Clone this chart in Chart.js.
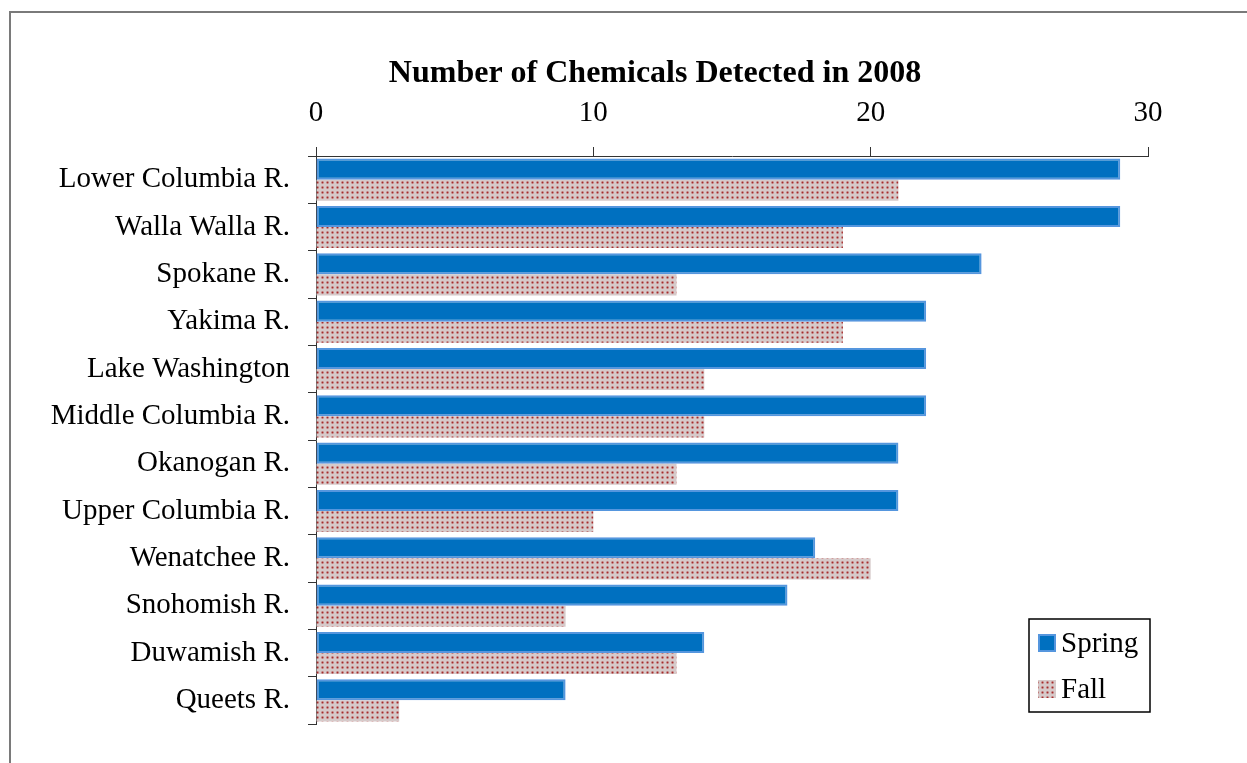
<!DOCTYPE html>
<html>
<head>
<meta charset="utf-8">
<title>Number of Chemicals Detected in 2008</title>
<script src="https://cdn.jsdelivr.net/npm/chart.js@4/dist/chart.umd.min.js"></script>
<style>
  html, body { margin: 0; padding: 0; background: #fff; overflow: hidden; }
  #frame { position: absolute; left: 9px; top: 11px; width: 2000px; height: 2000px; border: 2px solid #7a7a7a; }
  #chart { position: absolute; left: 0; top: 0; }
</style>
</head>
<body>
<div id="frame"></div>
<canvas id="chart" width="1247" height="763"></canvas>
<script>
// sites, top to bottom
var sites = ['Lower Columbia R.', 'Walla Walla R.', 'Spokane R.', 'Yakima R.', 'Lake Washington',
  'Middle Columbia R.', 'Okanogan R.', 'Upper Columbia R.', 'Wenatchee R.', 'Snohomish R.',
  'Duwamish R.', 'Queets R.'];

// number of chemicals found per site
var spring = [29, 29, 24, 22, 22, 22, 21, 21, 18, 17, 14, 9];
var fall = [21, 19, 13, 19, 14, 14, 13, 10, 20, 9, 13, 3];

var xTicks = [0, 10, 20, 30];
var chartTitle = 'Number of Chemicals Detected in 2008';

var serif = "'Liberation Serif', 'Times New Roman', serif";
Chart.defaults.font.family = serif;
Chart.defaults.color = '#000';

// dotted fill for the fall bars
function dotPattern() {
  var c = document.createElement('canvas');
  c.width = 5; c.height = 5;
  var g = c.getContext('2d');
  g.fillStyle = '#d6caca';
  g.fillRect(0, 0, 5, 5);
  g.fillStyle = '#cfa9a9';
  g.fillRect(1, 1, 3, 3);
  g.fillStyle = '#c07c7c';
  g.fillRect(1, 2, 3, 1);
  g.fillRect(2, 1, 1, 3);
  g.fillStyle = '#a52c2c';
  g.fillRect(2, 2, 1, 1);
  return g.createPattern(c, 'repeat');
}
var fallFill = dotPattern();

var titlePlugin = {
  id: 'topTitle',
  afterDraw: function(chart) {
    var ctx = chart.ctx;
    ctx.save();
    ctx.font = 'bold 32px ' + serif;
    ctx.fillStyle = '#000';
    ctx.textAlign = 'center';
    ctx.textBaseline = 'alphabetic';
    ctx.fillText(chartTitle, 655, 82);
    ctx.restore();
  }
};

// boxed legend inside the lower right of the plot
var boxLegend = {
  id: 'boxLegend',
  afterDraw: function(chart) {
    var ctx = chart.ctx;
    var area = chart.chartArea;
    var w = 121, h = 93;
    var x = area.right + 2 - w;
    var y = area.bottom - 12 - h;
    ctx.save();
    ctx.fillStyle = '#fff';
    ctx.fillRect(x, y, w, h);
    ctx.strokeStyle = '#000';
    ctx.lineWidth = 1.5;
    ctx.strokeRect(x, y, w, h);
    ctx.font = '29px ' + serif;
    ctx.textBaseline = 'middle';
    ctx.textAlign = 'left';
    chart.data.datasets.forEach(function(ds, i) {
      var cy = y + 24 + i * 46;
      ctx.fillStyle = ds.backgroundColor;
      ctx.fillRect(x + 9, cy - 9, 18, 18);
      if (ds.borderWidth) {
        ctx.strokeStyle = ds.borderColor;
        ctx.lineWidth = 2;
        ctx.strokeRect(x + 10, cy - 8, 16, 16);
      }
      ctx.fillStyle = '#000';
      ctx.fillText(ds.label, x + 32, cy + 1);
    });
    ctx.restore();
  }
};

new Chart(document.getElementById('chart'), {
  type: 'bar',
  data: {
    labels: sites,
    datasets: [
      {
        label: 'Spring',
        data: spring,
        backgroundColor: '#0070c0',
        borderColor: '#5596de',
        borderWidth: 2,
        borderSkipped: false,
        categoryPercentage: 0.89,
        barPercentage: 1.0
      },
      {
        label: 'Fall',
        data: fall,
        backgroundColor: fallFill,
        borderWidth: 0,
        categoryPercentage: 0.89,
        barPercentage: 1.0
      }
    ]
  },
  options: {
    indexAxis: 'y',
    responsive: false,
    animation: false,
    devicePixelRatio: 1,
    layout: { padding: { top: 90, left: 0, right: 99, bottom: 39 } },
    plugins: {
      legend: { display: false },
      title: { display: false },
      tooltip: { enabled: false }
    },
    scales: {
      x: {
        position: 'top',
        min: 0,
        max: 30,
        afterBuildTicks: function(scale) {
          scale.ticks = xTicks.map(function(v) { return { value: v }; });
        },
        afterFit: function(scale) { scale.height = 66; },
        grid: { drawOnChartArea: false, tickLength: 9, color: '#333', lineWidth: 1 },
        border: { color: '#333', width: 1 },
        ticks: { font: { size: 29 }, padding: 16, maxRotation: 0 }
      },
      y: {
        afterFit: function(scale) { scale.width = 316; },
        grid: { drawOnChartArea: false, offset: true, tickLength: 8, color: '#333', lineWidth: 1 },
        border: { color: '#333', width: 1 },
        ticks: { font: { size: 29 }, padding: 18, autoSkip: false }
      }
    }
  },
  plugins: [titlePlugin, boxLegend]
});
</script>
</body>
</html>
